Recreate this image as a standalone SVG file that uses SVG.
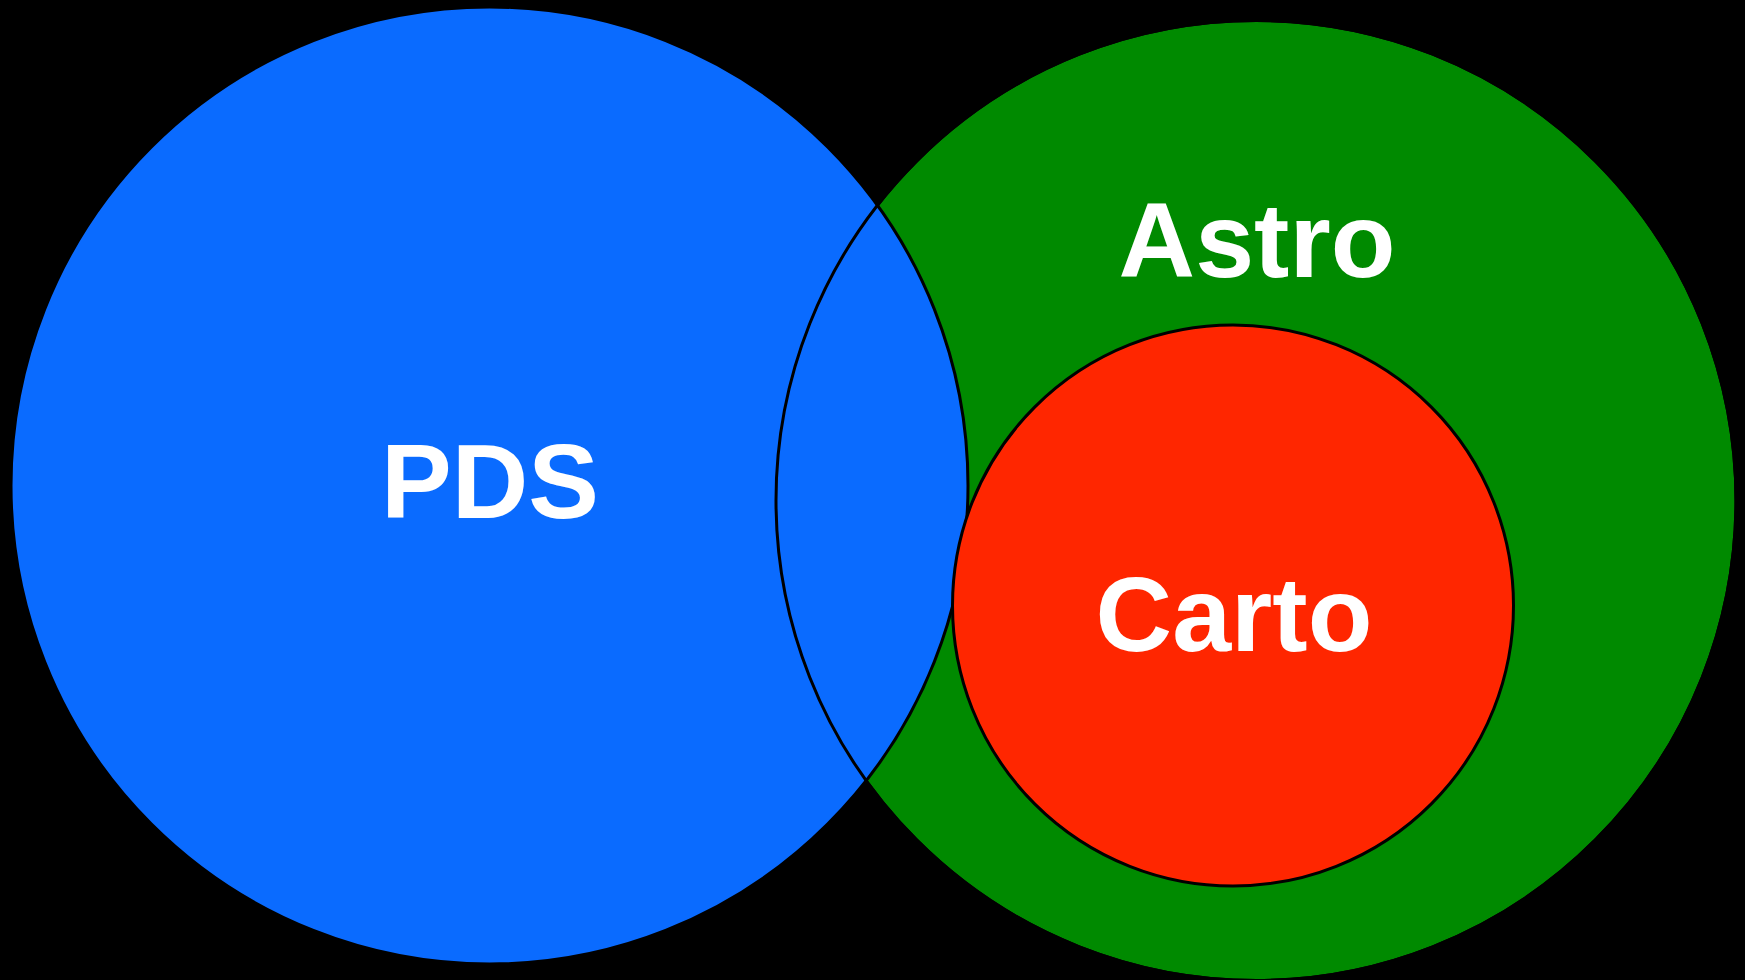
<svg xmlns="http://www.w3.org/2000/svg" width="1745" height="980" viewBox="0 0 1745 980">
  <style>
    .ring { stroke: #000; stroke-width: 3; }
    .outline { fill: none; stroke: #000; stroke-width: 3; }
    .label { font-family: "Liberation Sans", Arial, sans-serif; font-weight: bold; font-size: 106px; fill: #fff; text-anchor: middle; }
  </style>
  <rect x="0" y="0" width="1745" height="980" fill="#000"/>
  <g id="astro">
    <circle class="ring" cx="1256" cy="500.5" r="480" fill="#008a00"/>
  </g>
  <g id="pds">
    <circle class="ring" cx="489.5" cy="485.5" r="478.5" fill="#0a6bff"/>
    <text class="label" x="490" y="518">PDS</text>
  </g>
  <!-- Astro boundary redrawn over the PDS overlap -->
  <circle class="outline" cx="1256" cy="500.5" r="480"/>
  <g id="astro-label">
    <text class="label" x="1257" y="277">Astro</text>
  </g>
  <g id="carto">
    <circle class="ring" cx="1233" cy="605.5" r="280.5" fill="#ff2600"/>
    <text class="label" x="1234" y="651">Carto</text>
  </g>
</svg>
